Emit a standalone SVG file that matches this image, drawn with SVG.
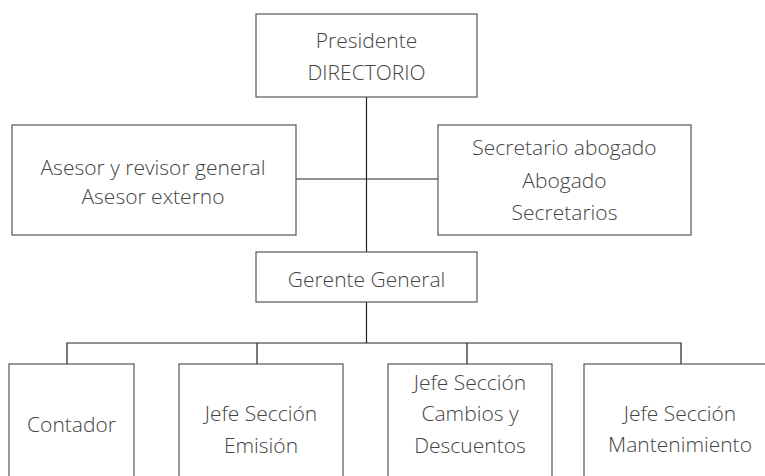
<svg xmlns="http://www.w3.org/2000/svg" width="765" height="476" viewBox="0 0 765 476">
<style>
.box{fill:#fff;stroke:#555;stroke-width:1.2}
.ln{fill:none;stroke:#222;stroke-width:1.2}
text{font-family:"Open Sans","Liberation Sans",sans-serif;font-weight:300;font-size:21px;fill:#444;text-anchor:middle}
</style>
<rect width="765" height="476" fill="#fff"/>
<g id="connectors">
<path class="ln" d="M366.5 97V343M296 179H438M67 364V343H681V364M257 343V364M467 343V364"/>
</g>
<g id="presidente">
<rect class="box" x="256" y="14" width="221" height="83"/>
<text x="366.5" y="48">Presidente</text>
<text x="366.5" y="80">DIRECTORIO</text>
</g>
<g id="asesor">
<rect class="box" x="12" y="125" width="284" height="110"/>
<text x="153" y="175">Asesor y revisor general</text>
<text x="153" y="204">Asesor externo</text>
</g>
<g id="secretario">
<rect class="box" x="438" y="125" width="253" height="110"/>
<text x="564.5" y="155">Secretario abogado</text>
<text x="564.5" y="188">Abogado</text>
<text x="564.5" y="220">Secretarios</text>
</g>
<g id="gerente">
<rect class="box" x="256" y="252" width="221" height="50"/>
<text x="366.5" y="287">Gerente General</text>
</g>
<g id="contador">
<rect class="box" x="9" y="364" width="125" height="130"/>
<text x="71.5" y="432">Contador</text>
</g>
<g id="emision">
<rect class="box" x="179" y="364" width="164" height="130"/>
<text x="261" y="421">Jefe Sección</text>
<text x="261" y="453">Emisión</text>
</g>
<g id="cambios">
<rect class="box" x="388" y="364" width="164" height="130"/>
<text x="470" y="390">Jefe Sección</text>
<text x="470" y="421">Cambios y</text>
<text x="470" y="453">Descuentos</text>
</g>
<g id="mantenimiento">
<rect class="box" x="584" y="364" width="192" height="130"/>
<text x="680" y="421">Jefe Sección</text>
<text x="680" y="452">Mantenimiento</text>
</g>
</svg>
